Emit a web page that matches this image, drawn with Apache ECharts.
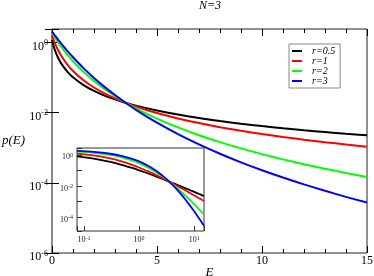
<!DOCTYPE html>
<html><head><meta charset="utf-8">
<script src="https://cdn.jsdelivr.net/npm/echarts@6.0.0/dist/echarts.min.js"></script>
<style>html,body{margin:0;padding:0;background:#fff}#c{width:374px;height:276px}</style>
</head><body><div id="c"></div><script>
// Energies (x values)
const E = [0, 0.075, 0.15, 0.3, 0.5, 0.75, 1, 1.5, 2, 2.5, 3, 3.5, 4, 5, 6, 7, 8, 9, 10, 11, 12, 13, 14, 15];
// p(E) for each r
const p_r05 = [1.175, 0.789, 0.574, 0.354, 0.221, 0.1426, 0.1014, 0.0608, 0.0415, 0.0305, 0.0237, 0.01905, 0.01574, 0.01143, 0.00875, 0.00698, 0.00574, 0.00482, 0.00412, 0.00358, 0.00314, 0.00279, 0.00249, 0.00225];
const p_r1  = [1.585, 1.178, 0.908, 0.583, 0.363, 0.226, 0.1535, 0.0832, 0.0518, 0.0352, 0.0253, 0.01905, 0.01483, 0.00968, 0.00679, 0.00501, 0.00384, 0.00303, 0.00245, 0.00202, 0.00169, 0.001435, 0.001233, 0.001069];
const p_r2  = [1.905, 1.600, 1.355, 0.986, 0.670, 0.4325, 0.2904, 0.1445, 0.0794, 0.0470, 0.0295, 0.01936, 0.01321, 0.00675, 0.00378, 0.002265, 0.001439, 0.000953, 0.000656, 0.000465, 0.000338, 0.000252, 0.000191, 0.000147];
const p_r3  = [2.042, 1.770, 1.538, 1.172, 0.830, 0.552, 0.3758, 0.1845, 0.0970, 0.0540, 0.0315, 0.01910, 0.01199, 0.00516, 0.002438, 0.001242, 0.000673, 0.000383, 0.000228, 0.000141, 0.0000899, 0.0000590, 0.0000397, 0.0000273];
const seriesNames = ['r=0.5', 'r=1', 'r=2', 'r=3'];
const seriesValues = [p_r05, p_r1, p_r2, p_r3];
const colors = ['#000000', '#ff0000', '#00ff00', '#0000ff'];
const xTicks = [0, 5, 10, 15];
const titleText = 'N=3';

const SERIF = 'Liberation Serif';
function expLabel(v) {
  const l = Math.log10(v);
  const e = Math.round(l);
  if (Math.abs(l - e) > 1e-3) return '';
  return '{b|10}{s|' + e + '}';
}
function expLabelEven(v) {
  const l = Math.log10(v);
  const e = Math.round(l);
  if (Math.abs(l - e) > 1e-3 || e % 2 !== 0) return '';
  return '{b|10}{s|' + e + '}';
}
const richMain = {
  b: {fontFamily: SERIF, fontSize: 12, lineHeight: 12, color: '#000', padding: [3, 0, 0, 0]},
  s: {fontFamily: SERIF, fontSize: 8, lineHeight: 8, color: '#000', verticalAlign: 'top'}
};
const richInset = {
  b: {fontFamily: SERIF, fontSize: 8, lineHeight: 8, color: '#222', padding: [2, 0, 0, 0]},
  s: {fontFamily: SERIF, fontSize: 6, lineHeight: 6, color: '#222', verticalAlign: 'top'}
};

const series = [];
seriesValues.forEach((vals, k) => {
  const pts = E.map((e, i) => [e, vals[i]]);
  series.push({
    name: seriesNames[k], type: 'line', xAxisIndex: 0, yAxisIndex: 0,
    data: pts, symbol: 'none', smooth: 0.3,
    lineStyle: {color: colors[k], width: 2}, itemStyle: {color: colors[k]}, z: 3 + k
  });
  series.push({
    name: seriesNames[k], type: 'line', xAxisIndex: 2, yAxisIndex: 2,
    data: pts.filter(d => d[0] > 0), symbol: 'none', smooth: 0.3,
    lineStyle: {color: colors[k], width: 1.8}, itemStyle: {color: colors[k]}, z: 3 + k
  });
});

const option = {
  animation: false,
  backgroundColor: '#fff',
  title: {
    text: titleText, left: 210, top: 0, padding: 0, textAlign: 'center',
    textStyle: {fontFamily: SERIF, fontStyle: 'italic', fontWeight: 'normal', fontSize: 12, color: '#000'}
  },
  legend: {
    data: seriesNames, orient: 'vertical', left: 289, top: 44,
    padding: [2, 5, 2, 3], itemGap: 0, itemWidth: 10, itemHeight: 11,
    icon: 'path://M0,0 L10,0 L10,2 L0,2 Z',
    borderColor: '#888', borderWidth: 1, backgroundColor: '#fff', selectedMode: false,
    textStyle: {fontFamily: SERIF, fontStyle: 'italic', fontSize: 10, color: '#000', padding: [0, 0, 0, 5]}
  },
  grid: [
    {left: 52, top: 29, width: 315, height: 224, show: true, borderColor: '#222', borderWidth: 1, backgroundColor: 'transparent', containLabel: false, outerBoundsMode: 'none'},
    {left: 77, top: 148, width: 127, height: 83, show: true, borderColor: '#333', borderWidth: 1, backgroundColor: '#fff', containLabel: false, outerBoundsMode: 'none'}
  ],
  xAxis: [
    {
      type: 'value', gridIndex: 0, min: 0, max: 15, interval: 5, position: 'bottom',
      name: 'E', nameLocation: 'middle', nameGap: 13, nameMoveOverlap: false,
      nameTextStyle: {fontFamily: SERIF, fontStyle: 'italic', fontSize: 13, color: '#000'},
      axisLine: {show: false}, splitLine: {show: false},
      axisTick: {show: true, inside: true, length: 7, lineStyle: {color: '#000'}},
      minorTick: {show: true, splitNumber: 5, length: 4, lineStyle: {color: '#000'}},
      axisLabel: {fontFamily: SERIF, fontSize: 12, color: '#000', margin: 2}
    },
    {
      type: 'value', gridIndex: 0, min: 0, max: 15, interval: 5, position: 'top',
      axisLine: {show: false}, splitLine: {show: false},
      axisTick: {show: true, inside: true, length: 7, lineStyle: {color: '#000'}},
      minorTick: {show: true, splitNumber: 5, length: 4, lineStyle: {color: '#000'}},
      axisLabel: {show: false}
    },
    {
      type: 'log', gridIndex: 1, min: 0.075, max: 15, logBase: 10,
      axisLine: {show: false}, splitLine: {show: false},
      axisTick: {show: true, inside: true, length: 5, lineStyle: {color: '#333'}},
      axisLabel: {formatter: expLabel, rich: richInset, margin: 4, padding: [0, 0, 0, 0]}
    }
  ],
  yAxis: [
    {
      type: 'log', gridIndex: 0, min: 1e-6, max: 2.4, interval: 2, logBase: 10, position: 'left',
      name: 'p(E)', nameLocation: 'middle', nameGap: 27, nameRotate: 0, nameMoveOverlap: false,
      nameTextStyle: {fontFamily: SERIF, fontStyle: 'italic', fontSize: 13, color: '#000', padding: [0, 0, 8, 0]},
      axisLine: {show: false}, splitLine: {show: false},
      axisTick: {show: true, inside: true, length: 7, lineStyle: {color: '#000'}},
      axisLabel: {formatter: expLabelEven, rich: richMain, margin: 4, padding: [5, 0, 0, 0]}
    },
    {
      type: 'log', gridIndex: 0, min: 1e-6, max: 2.4, interval: 2, logBase: 10, position: 'right',
      axisLine: {show: true, lineStyle: {color: '#888', width: 1.5}}, splitLine: {show: false},
      axisTick: {show: true, inside: true, length: 7, lineStyle: {color: '#000'}},
      axisLabel: {show: false}
    },
    {
      type: 'log', gridIndex: 1, min: 1.26e-5, max: 2.75, logBase: 10,
      axisLine: {show: false}, splitLine: {show: false},
      axisTick: {show: true, inside: true, length: 5, lineStyle: {color: '#333'}},
      axisLabel: {formatter: expLabelEven, rich: richInset, margin: 4, padding: [3, 0, 0, 0]}
    }
  ],
  series: series
};
const chart = echarts.init(document.getElementById('c'), null, {renderer: 'canvas'});
chart.setOption(option);
</script></body></html>
